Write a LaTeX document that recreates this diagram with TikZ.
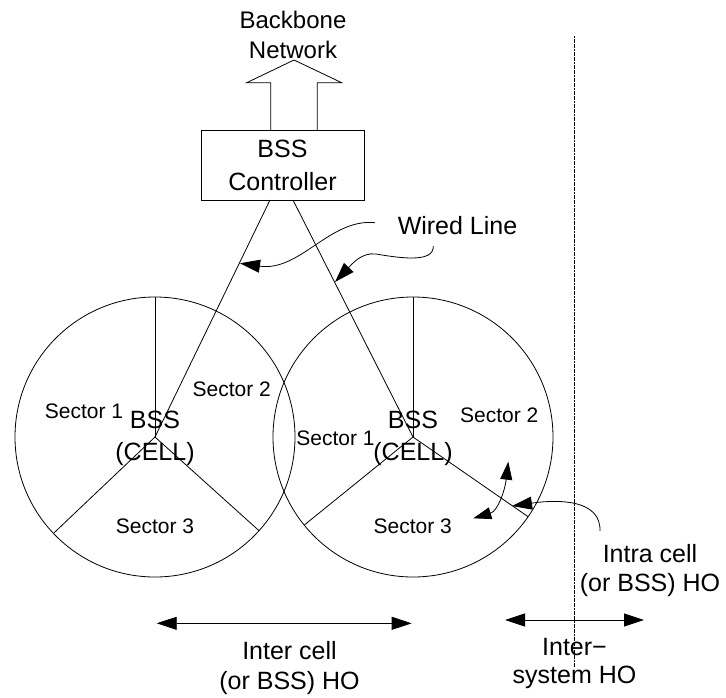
\documentclass[tikz,border=0pt]{standalone}
\usepackage{fontspec}
\setmainfont{Liberation Sans}
\usetikzlibrary{arrows.meta}
\begin{document}
\begin{tikzpicture}[x=1pt,y=-1pt,
  ln/.style={line width=0.8pt},
  tri/.style={-{Triangle[length=20pt,width=13pt]}},
  dbl/.style={{Triangle[length=20pt,width=13pt]}-{Triangle[length=20pt,width=13pt]}},
  dblsm/.style={{Triangle[length=18pt,width=12pt]}-{Triangle[length=18pt,width=12pt]}},
  lbl/.style={inner sep=0pt, align=center},
  sec/.style={inner sep=0pt, anchor=base, font=\fontsize{21}{25}\selectfont},
]
\useasboundingbox (0,0) rectangle (726,697);

% cells
\coordinate (cL) at (155,437);
\coordinate (cR) at (413,437);
\draw[ln] (cL) circle[radius=140];
\draw[ln] (cR) circle[radius=140];
\draw[ln] (cL) -- ++(-90:140);
\draw[ln] (cL) -- ++(136.5:140);
\draw[ln] (cL) -- ++(42:140);
\draw[ln] (cR) -- ++(-90:140);
\draw[ln] (cR) -- ++(141:140);
\draw[ln] (cR) -- ++(34.7:140);

% controller
\node[ln, draw, minimum width=163pt, minimum height=70pt, inner sep=0pt, align=center,
      font=\fontsize{25}{33}\selectfont] (ctrl) at (282.5,165) {BSS\\Controller};

% backbone block arrow
\coordinate (ba1) at (270.7,130);
\coordinate (ba2) at (317.3,130);
\draw[ln] (ba1) -- (270.7,82.7) -- (246.7,82.7) -- (294,60) -- (341.7,82.7) -- (317.3,82.7) -- (ba2);
\node[lbl, font=\fontsize{24}{30}\selectfont] (bb) at (293,34.5) {Backbone\\Network};

% wired lines
\coordinate (wl) at (270,200);
\coordinate (wr) at (293,200);
\draw[ln] (wl) -- (cL);
\draw[ln] (wr) -- (cR);

\node[inner sep=0pt, anchor=base, font=\fontsize{25}{30}\selectfont] (wired) at (457.5,234) {Wired Line};
\coordinate (w1s) at (375,222.7);
\coordinate (w1e) at (240,263.3);
\coordinate (w2s) at (433.3,246);
\coordinate (w2e) at (335,282);
\draw[ln,tri] (w1s) .. controls (330,218) and (300,272) .. (w1e);
\draw[ln,tri] (w2s) .. controls (434,262) and (405,259) .. (376,254) .. controls (362,252) and (352,264) .. (w2e);

% sector labels
\node[sec] (s1L) at (84,418.3) {Sector 1};
\node[sec] (s2L) at (231.7,396.7) {Sector 2};
\node[sec] (s3L) at (155,533.3) {Sector 3};
\node[sec] (s1R) at (335.5,445) {Sector 1};
\node[sec] (s2R) at (499.3,422.7) {Sector 2};
\node[sec] (s3R) at (412.7,533.3) {Sector 3};
\node[lbl, font=\fontsize{25}{31.4}\selectfont] (bssL) at (155,438.5) {BSS\\(CELL)};
\node[lbl, font=\fontsize{25}{31.4}\selectfont] (bssR) at (413,438.5) {BSS\\(CELL)};

% intra-sector double arrow
\coordinate (ds1) at (473.3,518.3);
\coordinate (ds2) at (508.3,461.7);
\draw[ln,dblsm] (ds1) .. controls (498,511) and (505,490) .. (ds2);

% intra cell arrow
\coordinate (ic1) at (600,531);
\coordinate (ic2) at (512,506);
\draw[ln,tri] (ic1) .. controls (601,500) and (560,499) .. (ic2);
\node[lbl, font=\fontsize{25}{29}\selectfont] (intra) at (650,570.8) {Intra cell\\(or BSS) HO};

% system boundary
\coordinate (vt) at (574.3,36);
\coordinate (vb) at (574.3,667);
\draw[line width=0.9pt, dash pattern=on 2pt off 0.6pt] (vt) -- (vb);

% inter cell
\coordinate (ic3) at (156.7,623.3);
\coordinate (ic4) at (411.7,623.3);
\draw[ln,dbl] (ic3) -- (ic4);
\node[lbl, font=\fontsize{25}{30}\selectfont] (inter) at (289.5,668.5) {Inter cell\\(or BSS) HO};

% inter system
\coordinate (is1) at (505,620);
\coordinate (is2) at (644,620);
\draw[ln,dbl] (is1) -- (is2);
\node[lbl, font=\fontsize{25}{28.3}\selectfont] (intersys) at (574.5,663.4) {Inter−\\system HO};
\end{tikzpicture}
\end{document}
